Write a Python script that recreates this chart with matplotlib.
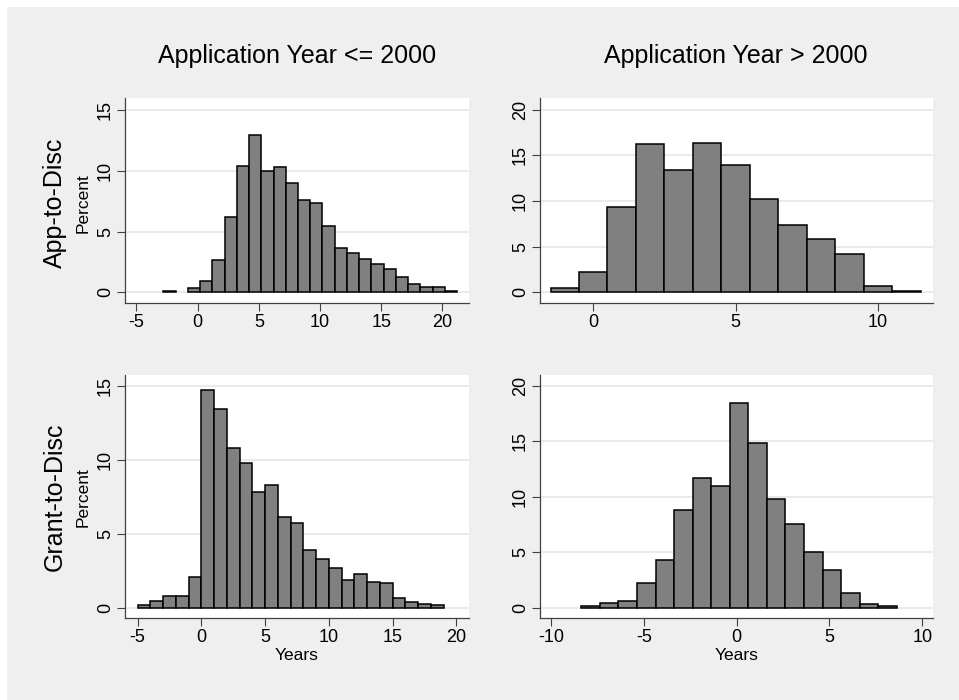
import numpy as np
import matplotlib
matplotlib.use("Agg")
import matplotlib.pyplot as plt
from matplotlib.patches import Rectangle

plt.rcParams['font.family'] = ['Liberation Sans', 'DejaVu Sans']
plt.rcParams['axes.unicode_minus'] = False

# histogram data: first bin edge, bin width, percent per bin
app_old_start, app_old_width = -2.8, 1.0
app_old_pct = [0.08, 0, 0.33, 0.96, 2.63, 6.17, 10.43, 12.98, 10.0, 10.29, 9.0, 7.6,
               7.33, 5.46, 3.62, 3.26, 2.74, 2.3, 1.95, 1.29, 0.71, 0.44, 0.41, 0.11]

app_new_start, app_new_width = -1.5, 1.0
app_new_pct = [0.4, 2.16, 9.3, 16.3, 13.4, 16.4, 13.9, 10.2, 7.4, 5.85, 4.17, 0.62, 0.1]

grant_old_start, grant_old_width = -5.0, 1.0
grant_old_pct = [0.18, 0.43, 0.8, 0.8, 2.06, 14.7, 13.46, 10.77, 9.77, 7.85, 8.3, 6.13,
                 5.72, 3.87, 3.28, 2.69, 1.9, 2.28, 1.72, 1.65, 0.68, 0.38, 0.27, 0.2]

grant_new_start, grant_new_width = -8.37, 1.0
grant_new_pct = [0.18, 0.42, 0.6, 2.23, 4.25, 8.8, 11.66, 10.96, 18.43, 14.85, 9.76,
                 7.56, 5.06, 3.37, 1.3, 0.36, 0.15]

col_titles = ['Application Year <= 2000', 'Application Year > 2000']
row_titles = ['App-to-Disc', 'Grant-to-Disc']

BG = '#efefef'
BAR = '#808080'
GRID = '#e6e6e6'
AXC = '#404040'

W, H = 959, 700
fig = plt.figure(figsize=(W / 100, H / 100), dpi=100, facecolor='white')
fig.patches.append(Rectangle((7 / W, 0), 1, 1 - 7 / H, transform=fig.transFigure,
                             facecolor=BG, edgecolor='none', zorder=-10))


def px_axes(x0, y0, x1, y1):
    # pixel box (top-left origin) -> figure axes
    return fig.add_axes([x0 / W, 1 - y1 / H, (x1 - x0) / W, (y1 - y0) / H])


def draw_hist(ax, start, width, pct, xlim, ylim, xticks, yticks):
    edges = start + width * np.arange(len(pct))
    pct = np.array(pct)
    keep = pct > 0
    ax.bar(edges[keep], pct[keep], width=width, align='edge', color=BAR,
           edgecolor='black', linewidth=1.1, zorder=3)
    ax.set_xlim(*xlim)
    ax.set_ylim(*ylim)
    ax.set_xticks(xticks)
    ax.set_yticks(yticks)
    ax.set_axisbelow(True)
    ax.yaxis.grid(True, color=GRID, linewidth=1.2)
    ax.set_facecolor('white')
    for s in ['top', 'right']:
        ax.spines[s].set_visible(False)
    for s in ['left', 'bottom']:
        ax.spines[s].set_color(AXC)
        ax.spines[s].set_linewidth(0.9)
    ax.tick_params(direction='out', length=5.5, width=0.8, color=AXC,
                   labelsize=13, pad=2.5)
    for lbl in ax.get_yticklabels():
        lbl.set_rotation(90)
        lbl.set_va('center')


ax_tl = px_axes(125, 98, 469, 303)
draw_hist(ax_tl, app_old_start, app_old_width, app_old_pct,
          (-5.94, 22.18), (-0.88, 16.0), [-5, 0, 5, 10, 15, 20], [0, 5, 10, 15])

ax_tr = px_axes(540, 98, 933, 303)
draw_hist(ax_tr, app_new_start, app_new_width, app_new_pct,
          (-1.87, 11.93), (-1.2, 21.3), [0, 5, 10], [0, 5, 10, 15, 20])

ax_bl = px_axes(125, 375, 469, 618)
draw_hist(ax_bl, grant_old_start, grant_old_width, grant_old_pct,
          (-5.99, 21.0), (-0.7, 15.74), [-5, 0, 5, 10, 15, 20], [0, 5, 10, 15])

ax_br = px_axes(540, 375, 933, 618)
draw_hist(ax_br, grant_new_start, grant_new_width, grant_new_pct,
          (-10.6, 10.58), (-0.93, 20.96), [-10, -5, 0, 5, 10], [0, 5, 10, 15, 20])

for ax in [ax_bl, ax_br]:
    ax.set_xlabel('Years', fontsize=12.5, labelpad=1.5)

# column titles
fig.text(297 / W, 1 - 56 / H, col_titles[0], fontsize=18, ha='center', va='center')
fig.text(736 / W, 1 - 56 / H, col_titles[1], fontsize=18, ha='center', va='center')

# row titles and "Percent"
for title, yc in zip(row_titles, [203, 497]):
    fig.text(55 / W, 1 - yc / H, title, fontsize=18, rotation=90, ha='center', va='center')
    fig.text(83 / W, 1 - yc / H, 'Percent', fontsize=12.5, rotation=90, ha='center', va='center')

fig.savefig('out.png', dpi=100, facecolor=fig.get_facecolor())
